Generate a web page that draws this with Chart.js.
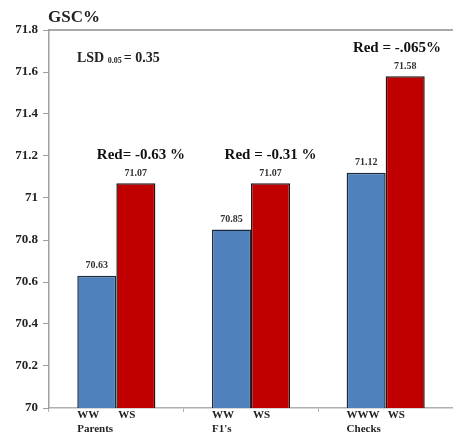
<!DOCTYPE html>
<html>
<head>
<meta charset="utf-8">
<script src="https://cdn.jsdelivr.net/npm/chart.js@4"></script>
<style>
    html, body { margin: 0; padding: 0; background: #fff; }
    #wrap { width: 453px; height: 438px; }
</style>
</head>
<body>
<div id="wrap"><canvas id="chart" width="453" height="438"></canvas></div>
<script>
// chart values
var groups = ['Parents', "F1's", 'Checks'];
var wwLabels = ['WW', 'WW', 'WWW'];
var wsLabels = ['WS', 'WS', 'WS'];
var wwValues = [70.63, 70.85, 71.12];
var wsValues = [71.07, 71.07, 71.58];
var redNotes = ['Red= -0.63 %', 'Red = -0.31 %', 'Red = -.065%'];
var yTicks = [70, 70.2, 70.4, 70.6, 70.8, 71, 71.2, 71.4, 71.6, 71.8];

var serif = '"Liberation Serif", "DejaVu Serif", serif';

var extras = {
    id: 'extras',
    afterDatasetsDraw: function (chart) {
        var ctx = chart.ctx;
        var area = chart.chartArea;
        var blue = chart.getDatasetMeta(0).data;
        var red = chart.getDatasetMeta(1).data;

        ctx.save();
        // top border line
        ctx.strokeStyle = '#8c8c8c';
        ctx.lineWidth = 1.5;
        ctx.beginPath();
        ctx.moveTo(area.left, area.top);
        ctx.lineTo(chart.width, area.top);
        ctx.stroke();

        // title
        ctx.fillStyle = '#222';
        ctx.font = 'bold 17px ' + serif;
        ctx.textAlign = 'left';
        ctx.textBaseline = 'alphabetic';
        ctx.fillText('GSC%', area.left - 1, 22);

        // LSD note
        ctx.font = 'bold 14px ' + serif;
        ctx.fillText('LSD', 77, 62);
        var w = ctx.measureText('LSD ').width;
        ctx.font = 'bold 8px ' + serif;
        ctx.fillText('0.05', 77 + w, 63);
        var w2 = ctx.measureText('0.05 ').width;
        ctx.font = 'bold 14px ' + serif;
        ctx.fillText('= 0.35', 77 + w + w2, 62);

        // value labels
        ctx.font = 'bold 10px ' + serif;
        ctx.fillStyle = '#333';
        ctx.textAlign = 'center';
        ctx.textBaseline = 'bottom';
        blue.forEach(function (b, i) { ctx.fillText(wwValues[i].toFixed(2), b.x, b.y - 5); });
        red.forEach(function (b, i) { ctx.fillText(wsValues[i].toFixed(2), b.x, b.y - 5); });

        // reduction notes
        ctx.font = 'bold 15px ' + serif;
        ctx.fillStyle = '#111';
        ctx.textBaseline = 'middle';
        red.forEach(function (b, i) {
            var tw = ctx.measureText(redNotes[i]).width;
            var cx = Math.min(b.x + (i === 0 ? 5 : 0), chart.width - tw / 2 - 12);
            ctx.fillText(redNotes[i], cx, b.y - 28);
        });

        // x labels
        ctx.font = 'bold 11px ' + serif;
        ctx.fillStyle = '#222';
        ctx.textAlign = 'left';
        ctx.textBaseline = 'middle';
        blue.forEach(function (b, i) {
            var left = b.x - b.width / 2;
            ctx.fillText(wwLabels[i], left, area.bottom + 7);
            ctx.fillText(groups[i], left, area.bottom + 21);
        });
        red.forEach(function (b, i) {
            ctx.fillText(wsLabels[i], b.x - b.width / 2 + 2, area.bottom + 7);
        });
        ctx.restore();
    }
};

var ctx = document.getElementById('chart').getContext('2d');
var chart = new Chart(ctx, {
    type: 'bar',
    data: {
        labels: groups,
        datasets: [{
            label: 'WW',
            data: wwValues,
            backgroundColor: '#4f81bd',
            borderColor: '#1c2a3a',
            borderWidth: 1.5,
            borderSkipped: 'bottom'
        }, {
            label: 'WS',
            data: wsValues,
            backgroundColor: '#c00000',
            borderColor: '#2a1010',
            borderWidth: 1.5,
            borderSkipped: 'bottom'
        }]
    },
    options: {
        responsive: false,
        animation: false,
        categoryPercentage: 0.58,
        barPercentage: 1,
        layout: { padding: { top: 30, left: 0, right: 0, bottom: 0 } },
        plugins: {
            legend: { display: false },
            tooltip: { enabled: false }
        },
        scales: {
            x: {
                grid: {
                    display: true,
                    drawOnChartArea: false,
                    tickLength: 4,
                    color: '#b0b0b0'
                },
                border: { color: '#b0b0b0', width: 1.5 },
                ticks: { display: false },
                afterFit: function (scale) { scale.height = 30; }
            },
            y: {
                min: 70,
                max: 71.8,
                afterBuildTicks: function (scale) {
                    scale.ticks = yTicks.map(function (v) { return { value: v }; });
                },
                grid: {
                    display: true,
                    drawOnChartArea: false,
                    tickLength: 6,
                    color: '#a0a0a0'
                },
                border: { color: '#a0a0a0', width: 1.5 },
                ticks: {
                    padding: 5,
                    color: '#222',
                    font: { family: serif, size: 13, weight: 'bold' },
                    callback: function (value) { return String(Number(value.toFixed(1))); }
                },
                afterFit: function (scale) { scale.width = 49; }
            }
        }
    },
    plugins: [extras]
});
</script>
</body>
</html>
